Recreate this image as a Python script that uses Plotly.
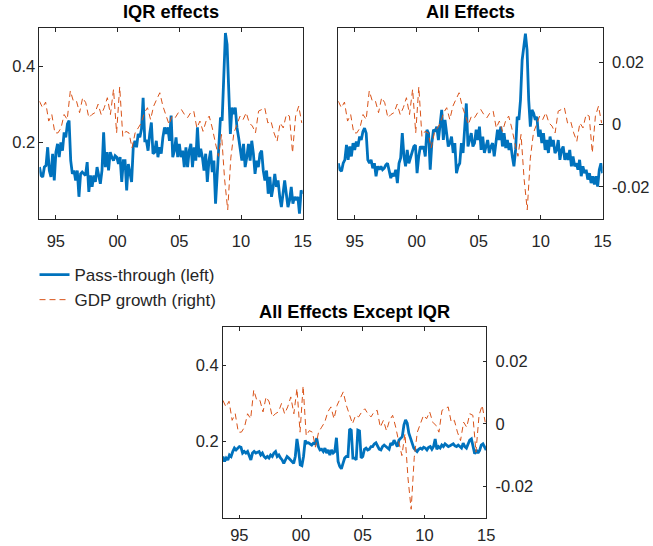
import numpy as np
import plotly.graph_objects as go

# ---------------- data ----------------
start_year = 1993.67
end_year = 2015.0
gdp_start = 1993.67
gdp_step = 0.25  # quarterly

iqr_effects = [
    0.135, 0.113, 0.109, 0.135, 0.139, 0.187, 0.126, 0.109, 0.170, 0.100,
    0.174, 0.196, 0.161, 0.200, 0.178, 0.226, 0.213, 0.248, 0.257, 0.152,
    0.117, 0.126, 0.100, 0.126, 0.057, 0.117, 0.122, 0.117, 0.113, 0.148,
    0.070, 0.113, 0.083, 0.113, 0.096, 0.135, 0.109, 0.091, 0.126, 0.226,
    0.135, 0.174, 0.126, 0.174, 0.161, 0.152, 0.165, 0.161, 0.143, 0.161,
    0.096, 0.152, 0.152, 0.074, 0.143, 0.122, 0.096, 0.187, 0.204, 0.187,
    0.222, 0.213, 0.235, 0.317, 0.204, 0.204, 0.178, 0.222, 0.252, 0.170,
    0.174, 0.204, 0.161, 0.187, 0.170, 0.213, 0.239, 0.222, 0.239, 0.204,
    0.270, 0.161, 0.178, 0.213, 0.161, 0.196, 0.161, 0.178, 0.135, 0.187,
    0.135, 0.178, 0.196, 0.135, 0.187, 0.152, 0.239, 0.161, 0.183, 0.161,
    0.126, 0.170, 0.096, 0.152, 0.178, 0.122, 0.152, 0.039, 0.126, 0.178,
    0.265, 0.257, 0.352, 0.487, 0.457, 0.361, 0.222, 0.291, 0.274, 0.291,
    0.239, 0.213, 0.178, 0.152, 0.196, 0.135, 0.161, 0.196, 0.152, 0.204,
    0.170, 0.117, 0.152, 0.135, 0.170, 0.178, 0.126, 0.100, 0.126, 0.065,
    0.109, 0.057, 0.083, 0.117, 0.083, 0.100, 0.057, 0.030, 0.065, 0.100,
    0.065, 0.030, 0.048, 0.083, 0.039, 0.057, 0.048, 0.057, 0.013, 0.074,
    0.065,
]

all_effects = [
    0.145, 0.128, 0.124, 0.145, 0.154, 0.193, 0.154, 0.189, 0.163, 0.198,
    0.180, 0.202, 0.189, 0.215, 0.206, 0.228, 0.237, 0.224, 0.154, 0.145,
    0.154, 0.132, 0.145, 0.111, 0.137, 0.128, 0.137, 0.128, 0.132, 0.141,
    0.145, 0.128, 0.106, 0.119, 0.111, 0.128, 0.093, 0.145, 0.159, 0.224,
    0.163, 0.137, 0.180, 0.145, 0.159, 0.172, 0.189, 0.193, 0.119, 0.163,
    0.189, 0.185, 0.189, 0.163, 0.233, 0.224, 0.128, 0.198, 0.233, 0.228,
    0.241, 0.206, 0.250, 0.285, 0.206, 0.259, 0.224, 0.189, 0.198, 0.215,
    0.172, 0.198, 0.119, 0.137, 0.145, 0.198, 0.172, 0.241, 0.302, 0.189,
    0.206, 0.224, 0.189, 0.198, 0.233, 0.206, 0.241, 0.180, 0.215, 0.172,
    0.189, 0.206, 0.172, 0.189, 0.198, 0.163, 0.198, 0.233, 0.206, 0.241,
    0.189, 0.224, 0.185, 0.206, 0.180, 0.198, 0.163, 0.137, 0.180, 0.267,
    0.259, 0.311, 0.416, 0.459, 0.485, 0.442, 0.311, 0.241, 0.285, 0.276,
    0.259, 0.267, 0.215, 0.233, 0.198, 0.224, 0.180, 0.206, 0.172, 0.215,
    0.189, 0.206, 0.172, 0.180, 0.206, 0.154, 0.180, 0.189, 0.154, 0.172,
    0.154, 0.180, 0.137, 0.163, 0.137, 0.145, 0.128, 0.154, 0.111, 0.137,
    0.119, 0.128, 0.102, 0.119, 0.093, 0.111, 0.089, 0.111, 0.084, 0.128,
    0.145, 0.119,
]

except_iqr = [
    0.161, 0.148, 0.157, 0.152, 0.165, 0.161, 0.174, 0.183, 0.178, 0.183,
    0.187, 0.185, 0.170, 0.174, 0.170, 0.174, 0.165, 0.152, 0.170, 0.174,
    0.170, 0.171, 0.174, 0.165, 0.170, 0.161, 0.157, 0.161, 0.157, 0.165,
    0.161, 0.170, 0.174, 0.161, 0.165, 0.157, 0.152, 0.143, 0.152, 0.161,
    0.157, 0.152, 0.150, 0.143, 0.161, 0.207, 0.178, 0.139, 0.137, 0.161,
    0.203, 0.196, 0.197, 0.194, 0.191, 0.196, 0.194, 0.209, 0.187, 0.178,
    0.180, 0.174, 0.183, 0.170, 0.178, 0.165, 0.178, 0.170, 0.174, 0.210,
    0.148, 0.135, 0.129, 0.143, 0.157, 0.161, 0.161, 0.233, 0.230, 0.157,
    0.157, 0.152, 0.230, 0.228, 0.157, 0.161, 0.180, 0.183, 0.178, 0.180,
    0.187, 0.187, 0.194, 0.197, 0.187, 0.180, 0.178, 0.187, 0.191, 0.187,
    0.183, 0.180, 0.196, 0.191, 0.204, 0.196, 0.187, 0.204, 0.209, 0.213,
    0.243, 0.257, 0.248, 0.222, 0.209, 0.196, 0.183, 0.178, 0.174, 0.180,
    0.183, 0.180, 0.185, 0.183, 0.178, 0.185, 0.187, 0.180, 0.187, 0.207,
    0.180, 0.187, 0.183, 0.191, 0.187, 0.194, 0.191, 0.187, 0.189, 0.191,
    0.194, 0.189, 0.187, 0.191, 0.187, 0.183, 0.196, 0.187, 0.183, 0.194,
    0.204, 0.207, 0.187, 0.168, 0.178, 0.170, 0.177, 0.191, 0.194, 0.187,
    0.178,
]

gdp_growth = [
    0.0075, 0.0054, 0.0072, 0.0011, 0.0032, -0.0027, -0.0027, -0.0011, 0.0032, 0.0016,
    0.0108, 0.0075, 0.0075, 0.0038, 0.0086, 0.0070, 0.0022, 0.0032, 0.0038, 0.0065,
    0.0032, 0.0054, 0.0086, 0.0032, 0.0113, -0.0027, 0.0121, -0.0038, -0.0022, -0.0027,
    -0.0075, -0.0027, -0.0011, 0.0005, 0.0038, 0.0054, 0.0016, 0.0059, 0.0081, 0.0102,
    0.0059, 0.0032, 0.0000, 0.0027, 0.0022, 0.0038, 0.0048, 0.0032, 0.0022, 0.0038,
    0.0043, -0.0011, 0.0011, -0.0022, 0.0011, 0.0027, -0.0011, -0.0059, -0.0102, -0.0032,
    -0.0177, -0.0274, -0.0108, -0.0027, 0.0000, 0.0027, 0.0016, 0.0038, 0.0005, -0.0005,
    -0.0027, 0.0043, 0.0048, 0.0054, 0.0005, 0.0011, -0.0027, -0.0054, 0.0005, -0.0011,
    0.0032, 0.0027, -0.0091, 0.0027, 0.0059, 0.0005,
]

tick_years = [1995, 2000, 2005, 2010, 2015]
tick_labels = ["95", "00", "05", "10", "15"]
left_ticks = [0.2, 0.4]
left_labels = ["0.2", "0.4"]
right_ticks = [-0.02, 0, 0.02]
right_labels = ["-0.02", "0", "0.02"]

panel_titles = ["IQR effects", "All Effects", "All Effects Except IQR"]
series_names = ["Pass-through (left)", "GDP growth (right)"]

# ---------------- styling ----------------
BLUE = "#0072BD"
ORANGE = "#D95319"
AXC = "#262626"
FONT = "Liberation Sans, Arial, Helvetica, sans-serif"

W, H = 653, 546


def px_x(a, b):
    return [a / W, b / W]


def px_y(top, bottom):
    return [1 - bottom / H, 1 - top / H]


gdp_dates = gdp_start + gdp_step * np.arange(len(gdp_growth))
pass_series = [iqr_effects, all_effects, except_iqr]

fig = go.Figure()

for i, ser in enumerate(pass_series):
    n = i + 1
    xa = "x" if n == 1 else f"x{n}"
    yl = f"y{2 * n - 1}" if n > 1 else "y"
    yr = f"y{2 * n}"
    d = np.linspace(start_year, end_year, len(ser))
    fig.add_trace(go.Scatter(
        x=d, y=ser, mode="lines", xaxis=xa, yaxis=yl,
        line=dict(color=BLUE, width=2.8),
        name=series_names[0], showlegend=(n == 1), legendrank=1,
        hoverinfo="skip",
    ))
    fig.add_trace(go.Scatter(
        x=gdp_dates, y=gdp_growth, mode="lines", xaxis=xa, yaxis=yr,
        line=dict(color=ORANGE, width=1, dash="6px,4px"),
        name=series_names[1], showlegend=(n == 1), legendrank=2,
        hoverinfo="skip",
    ))

x_domains = [px_x(40, 307), px_x(343, 611), px_x(226, 493)]
y_domains = [px_y(28, 218.5), px_y(28, 218.5), px_y(327, 518)]
x_standoff = [8, 8, 2]

TICKFS = 16.5

layout = dict(
    width=W, height=H,
    margin=dict(l=0, r=0, t=0, b=0, pad=0),
    paper_bgcolor="white", plot_bgcolor="white",
    font=dict(family=FONT, size=TICKFS, color=AXC),
    showlegend=True,
    hovermode=False,
    legend=dict(
        x=35 / W, y=1 - 257 / H, xanchor="left", yanchor="top",
        font=dict(family=FONT, size=17, color=AXC),
        bgcolor="rgba(0,0,0,0)", borderwidth=0, tracegroupgap=0,
        itemwidth=30,
    ),
)

for i in range(3):
    n = i + 1
    xkey = "xaxis" if n == 1 else f"xaxis{n}"
    ylkey = "yaxis" if n == 1 else f"yaxis{2 * n - 1}"
    yrkey = f"yaxis{2 * n}"
    yl_name = "y" if n == 1 else f"y{2 * n - 1}"
    x_name = "x" if n == 1 else f"x{n}"

    layout[xkey] = dict(
        domain=x_domains[i], anchor=yl_name,
        range=[start_year, end_year],
        tickvals=tick_years, ticktext=tick_labels,
        ticks="inside", ticklen=3.5, tickcolor=AXC, tickwidth=1,
        showline=True, linecolor=AXC, linewidth=1, mirror="ticks",
        showgrid=False, zeroline=False,
        ticklabelstandoff=x_standoff[i],
        tickfont=dict(family=FONT, size=TICKFS, color=AXC),
    )
    show_left = (n != 2)
    show_right = (n != 1)
    layout[ylkey] = dict(
        domain=y_domains[i], anchor=x_name, side="left",
        range=[0, 0.5],
        tickvals=left_ticks, ticktext=left_labels,
        ticks="inside" if show_left else "", ticklen=3.5, tickcolor=AXC,
        showticklabels=show_left,
        showline=True, linecolor=AXC, linewidth=1, mirror=False,
        showgrid=False, zeroline=False,
        tickfont=dict(family=FONT, size=TICKFS, color=AXC),
    )
    layout[yrkey] = dict(
        domain=y_domains[i], anchor=x_name, side="right",
        overlaying=yl_name,
        range=[-0.0302, 0.031],
        tickvals=right_ticks, ticktext=right_labels,
        ticks="inside" if show_right else "", ticklen=3.5, tickcolor=AXC,
        showticklabels=show_right,
        ticklabelstandoff=5,
        showline=True, linecolor=AXC, linewidth=1,
        showgrid=False, zeroline=False,
        tickfont=dict(family=FONT, size=TICKFS, color=AXC),
    )

fig.update_layout(**layout)

title_y = [12, 12, 312]
for i, t in enumerate(panel_titles):
    cx = (x_domains[i][0] + x_domains[i][1]) / 2
    fig.add_annotation(
        text=f"<b>{t}</b>", xref="paper", yref="paper",
        x=cx, y=1 - title_y[i] / H, xanchor="center", yanchor="middle",
        showarrow=False, font=dict(family=FONT, size=18.2, color="black"),
    )

fig.write_html(
    "out.html",
    config={"displayModeBar": False, "staticPlot": True},
    post_script="document.body.style.margin='0';document.body.style.padding='0';",
)
